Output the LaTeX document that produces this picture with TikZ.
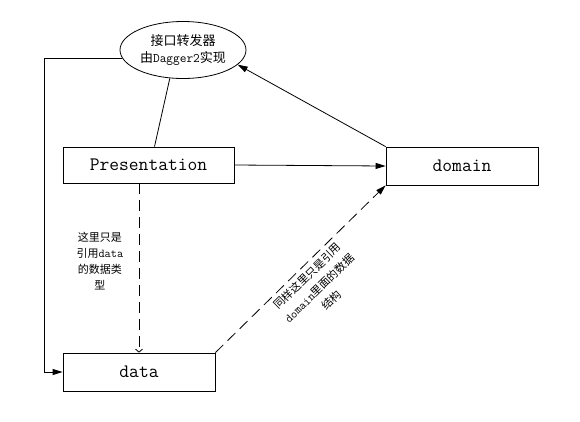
\documentclass[tikz,border=0pt]{standalone}
\usepackage{fontspec}
\setmainfont{Liberation Serif}
\newfontfamily\cjk{Noto Sans CJK SC}
\usetikzlibrary{shapes.geometric, arrows.meta}

\tikzset{
  box/.style={draw, line width=0.8pt, inner sep=0pt, font=\fontsize{19}{22}\selectfont\ttfamily},
  note/.style={align=center, font=\fontsize{11}{16}\selectfont\cjk},
  link/.style={line width=0.8pt},
  arr/.style={link, -{Triangle[length=10pt,width=6pt]}},
  dash line/.style={link, dash pattern=on 11pt off 6pt}
}

\begin{document}
\begin{tikzpicture}[x=1pt, y=-1pt]
  \useasboundingbox (0,0) rectangle (580,421);
  % nodes
  \node[ellipse, draw, line width=0.8pt, minimum width=126pt, minimum height=57pt, inner sep=0pt,
        align=center, font=\fontsize{13}{17}\selectfont\cjk] (ell) at (183,50)
        {接口转发器\\由{\ttfamily Dagger2}实现};
  \node[box, minimum width=171pt, minimum height=36pt] (pres) at (148.5,165) {Presentation};
  \node[box, minimum width=152pt, minimum height=38pt] (dom) at (462,166) {domain};
  \node[box, minimum width=152pt, minimum height=38pt] (data) at (139,372) {data};
  \coordinate (lft) at (44,372);

  % ellipse links
  \draw[link] (ell.245) -- ([xshift=6pt]pres.north);
  \draw[arr] (dom.north west) -- (ell.-15);
  \draw[arr] (ell.188) -| (lft) -- (data.west);
  \draw[arr] (pres.east) -- (dom.west);

  % data type references
  \draw[dash line, -{Straight Barb[length=3pt,width=7pt]}] (data.north |- pres.south) -- (data.north)
    node[note, pos=0.46, left=12pt] {这里只是\\引用{\fontsize{12}{16}\selectfont\ttfamily data}\\的数据类\\型};
  \draw[dash line, -{Triangle[length=10pt,width=6pt]}] (data.north east) -- (dom.south west)
    node[note, font=\fontsize{11}{17}\selectfont\cjk, midway, sloped, below=1pt]
    {同样这里只是引用\\{\fontsize{12}{17}\selectfont\ttfamily domain}里面的数据\\结构};
\end{tikzpicture}
\end{document}
